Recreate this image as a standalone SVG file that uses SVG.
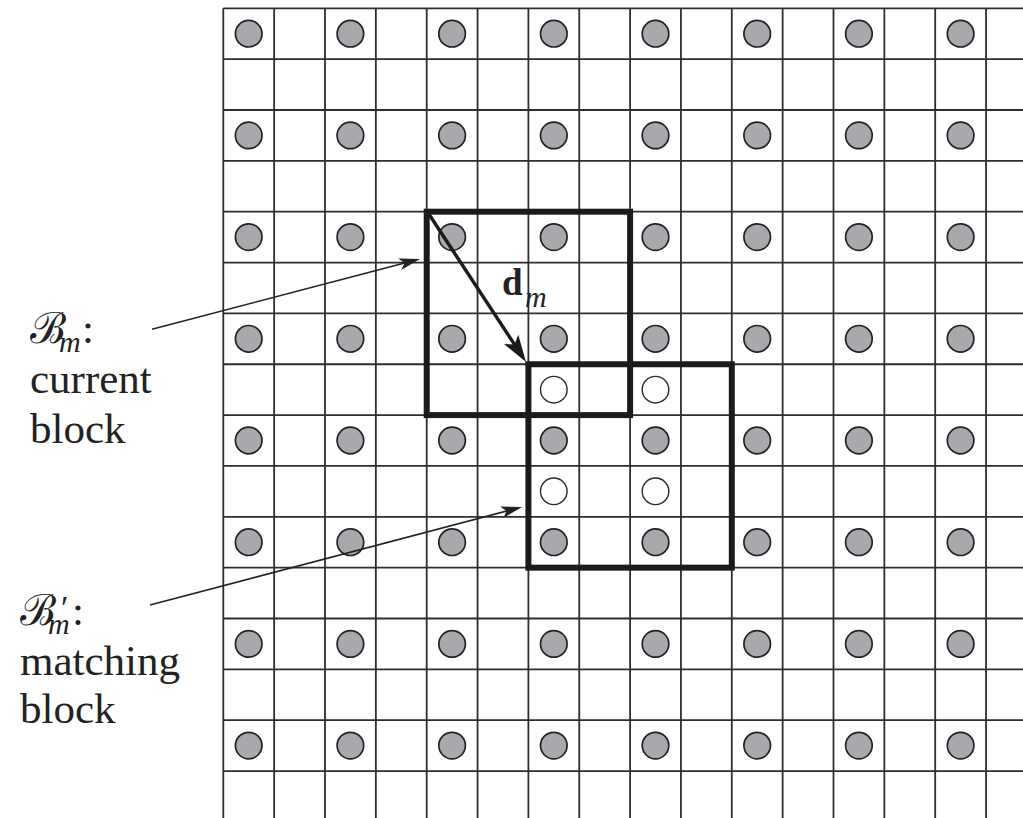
<svg xmlns="http://www.w3.org/2000/svg" width="1023" height="818" viewBox="0 0 1023 818">
<style>
.grid{fill:none;stroke:#2e2e2e;stroke-width:1.8}
.dot{fill:#a7a9ac;stroke:#222;stroke-width:1.7}
.open{fill:#fff;stroke:#2a2a2a;stroke-width:1.4}
.blk{fill:none;stroke:#1c1a1b;stroke-width:6;stroke-linejoin:miter}
.thin{fill:none;stroke:#222;stroke-width:1.6}
.thick{fill:none;stroke:#1c1a1b;stroke-width:3.4}
text{fill:#222}
.lbl{font-family:'Liberation Serif',serif;font-size:43px}
.scr{font-family:'Liberation Serif',serif;font-size:43px}
.pr{font-family:'Liberation Serif',serif;font-size:34px}
.sub{font-family:'Liberation Serif',serif;font-style:italic;font-size:30px}
.bold{font-family:'Liberation Serif',serif;font-weight:bold;font-size:37px}
</style>
<defs>
<marker id="ahThin" markerUnits="userSpaceOnUse" markerWidth="30" markerHeight="20" refX="0" refY="0" viewBox="-15 -10 30 20" orient="auto" overflow="visible">
<path d="M8,0 L-13,-6 L-8,0 L-13,6 Z" fill="#222"/>
</marker>
<marker id="ahThick" markerUnits="userSpaceOnUse" markerWidth="40" markerHeight="30" refX="0" refY="0" viewBox="-20 -15 40 30" orient="auto" overflow="visible">
<path d="M10,0 L-17,-8.5 L-11,0 L-17,8.5 Z" fill="#1c1a1b"/>
</marker>
</defs>
<rect width="1023" height="818" fill="#fff"/>
<g id="grid">
<path class="grid" d="M223.3,8.3V818 M274.15,8.3V818 M325,8.3V818 M375.85,8.3V818 M426.7,8.3V818 M477.55,8.3V818 M528.4,8.3V818 M579.25,8.3V818 M630.1,8.3V818 M680.95,8.3V818 M731.8,8.3V818 M782.65,8.3V818 M833.5,8.3V818 M884.35,8.3V818 M935.2,8.3V818 M986.05,8.3V818"/>
<path class="grid" d="M223.3,8.3H1023 M223.3,59.15H1023 M223.3,110H1023 M223.3,160.85H1023 M223.3,211.7H1023 M223.3,262.55H1023 M223.3,313.4H1023 M223.3,364.25H1023 M223.3,415.1H1023 M223.3,465.95H1023 M223.3,516.8H1023 M223.3,567.65H1023 M223.3,618.5H1023 M223.3,669.35H1023 M223.3,720.2H1023 M223.3,771.05H1023"/>
</g>
<g id="dots">
<circle class="dot" cx="248.7" cy="33.7" r="13.3"/><circle class="dot" cx="350.4" cy="33.7" r="13.3"/><circle class="dot" cx="452.1" cy="33.7" r="13.3"/><circle class="dot" cx="553.8" cy="33.7" r="13.3"/><circle class="dot" cx="655.5" cy="33.7" r="13.3"/><circle class="dot" cx="757.2" cy="33.7" r="13.3"/><circle class="dot" cx="858.9" cy="33.7" r="13.3"/><circle class="dot" cx="960.6" cy="33.7" r="13.3"/>
<circle class="dot" cx="248.7" cy="135.4" r="13.3"/><circle class="dot" cx="350.4" cy="135.4" r="13.3"/><circle class="dot" cx="452.1" cy="135.4" r="13.3"/><circle class="dot" cx="553.8" cy="135.4" r="13.3"/><circle class="dot" cx="655.5" cy="135.4" r="13.3"/><circle class="dot" cx="757.2" cy="135.4" r="13.3"/><circle class="dot" cx="858.9" cy="135.4" r="13.3"/><circle class="dot" cx="960.6" cy="135.4" r="13.3"/>
<circle class="dot" cx="248.7" cy="237.1" r="13.3"/><circle class="dot" cx="350.4" cy="237.1" r="13.3"/><circle class="dot" cx="452.1" cy="237.1" r="13.3"/><circle class="dot" cx="553.8" cy="237.1" r="13.3"/><circle class="dot" cx="655.5" cy="237.1" r="13.3"/><circle class="dot" cx="757.2" cy="237.1" r="13.3"/><circle class="dot" cx="858.9" cy="237.1" r="13.3"/><circle class="dot" cx="960.6" cy="237.1" r="13.3"/>
<circle class="dot" cx="248.7" cy="338.8" r="13.3"/><circle class="dot" cx="350.4" cy="338.8" r="13.3"/><circle class="dot" cx="452.1" cy="338.8" r="13.3"/><circle class="dot" cx="553.8" cy="338.8" r="13.3"/><circle class="dot" cx="655.5" cy="338.8" r="13.3"/><circle class="dot" cx="757.2" cy="338.8" r="13.3"/><circle class="dot" cx="858.9" cy="338.8" r="13.3"/><circle class="dot" cx="960.6" cy="338.8" r="13.3"/>
<circle class="dot" cx="248.7" cy="440.5" r="13.3"/><circle class="dot" cx="350.4" cy="440.5" r="13.3"/><circle class="dot" cx="452.1" cy="440.5" r="13.3"/><circle class="dot" cx="553.8" cy="440.5" r="13.3"/><circle class="dot" cx="655.5" cy="440.5" r="13.3"/><circle class="dot" cx="757.2" cy="440.5" r="13.3"/><circle class="dot" cx="858.9" cy="440.5" r="13.3"/><circle class="dot" cx="960.6" cy="440.5" r="13.3"/>
<circle class="dot" cx="248.7" cy="542.2" r="13.3"/><circle class="dot" cx="350.4" cy="542.2" r="13.3"/><circle class="dot" cx="452.1" cy="542.2" r="13.3"/><circle class="dot" cx="553.8" cy="542.2" r="13.3"/><circle class="dot" cx="655.5" cy="542.2" r="13.3"/><circle class="dot" cx="757.2" cy="542.2" r="13.3"/><circle class="dot" cx="858.9" cy="542.2" r="13.3"/><circle class="dot" cx="960.6" cy="542.2" r="13.3"/>
<circle class="dot" cx="248.7" cy="643.9" r="13.3"/><circle class="dot" cx="350.4" cy="643.9" r="13.3"/><circle class="dot" cx="452.1" cy="643.9" r="13.3"/><circle class="dot" cx="553.8" cy="643.9" r="13.3"/><circle class="dot" cx="655.5" cy="643.9" r="13.3"/><circle class="dot" cx="757.2" cy="643.9" r="13.3"/><circle class="dot" cx="858.9" cy="643.9" r="13.3"/><circle class="dot" cx="960.6" cy="643.9" r="13.3"/>
<circle class="dot" cx="248.7" cy="745.6" r="13.3"/><circle class="dot" cx="350.4" cy="745.6" r="13.3"/><circle class="dot" cx="452.1" cy="745.6" r="13.3"/><circle class="dot" cx="553.8" cy="745.6" r="13.3"/><circle class="dot" cx="655.5" cy="745.6" r="13.3"/><circle class="dot" cx="757.2" cy="745.6" r="13.3"/><circle class="dot" cx="858.9" cy="745.6" r="13.3"/><circle class="dot" cx="960.6" cy="745.6" r="13.3"/>
</g>
<g id="open-dots">
<circle class="open" cx="553.8" cy="389.65" r="13.3"/><circle class="open" cx="655.5" cy="389.65" r="13.3"/>
<circle class="open" cx="553.8" cy="491.35" r="13.3"/><circle class="open" cx="655.5" cy="491.35" r="13.3"/>
</g>
<g id="current-block">
<rect class="blk" x="426.7" y="211.7" width="203.4" height="203.4"/>
</g>
<g id="matching-block">
<rect class="blk" x="528.4" y="364.25" width="203.4" height="203.4"/>
</g>
<g id="connectors">
<line class="thin" x1="152" y1="329.3" x2="412.3" y2="261" marker-end="url(#ahThin)"/>
<line class="thin" x1="150" y1="605" x2="514.3" y2="509" marker-end="url(#ahThin)"/>
<line class="thick" x1="428.5" y1="213.5" x2="520.5" y2="353.6" marker-end="url(#ahThick)"/>
</g>
<g id="dm-label">
<text x="502" y="295"><tspan class="bold">d</tspan><tspan class="sub" x="525" y="307">m</tspan></text>
</g>
<g id="current-label">
<text x="30" y="343"><tspan class="scr">ℬ</tspan><tspan class="sub" x="59" y="352">m</tspan><tspan class="lbl" x="82" y="343">:</tspan></text>
<text class="lbl" x="30" y="393">current</text>
<text class="lbl" x="30" y="443">block</text>
</g>
<g id="matching-label">
<text x="20" y="625"><tspan class="scr">ℬ</tspan><tspan class="pr" x="61" y="619">′</tspan><tspan class="sub" x="48" y="634">m</tspan><tspan class="lbl" x="72" y="625">:</tspan></text>
<text class="lbl" x="20" y="675">matching</text>
<text class="lbl" x="20" y="723">block</text>
</g>
</svg>
